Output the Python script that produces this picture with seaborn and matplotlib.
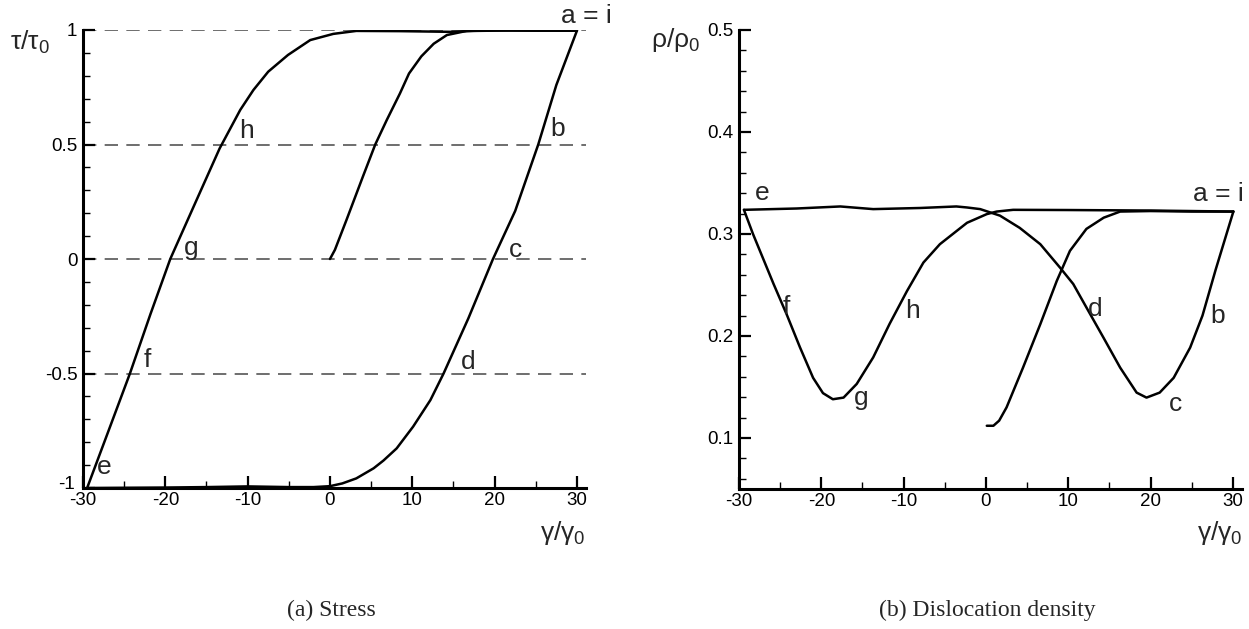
import numpy as np
import pandas as pd
import matplotlib
matplotlib.use("Agg")
import matplotlib.pyplot as plt
import matplotlib.transforms as mtransforms
from matplotlib.ticker import MultipleLocator, FixedLocator
import seaborn as sns

# ---------------- (a) stress - strain loop ----------------
load_x = [0.0, 0.6, 2.0, 4.0, 5.5, 6.9, 8.5, 9.6, 11.1, 12.6, 14.2, 16.6, 20.0, 25.0, 30.0]
load_y = [0.0, 0.04, 0.17, 0.36, 0.50, 0.607, 0.723, 0.81, 0.885, 0.94, 0.978, 0.996, 0.998, 0.997, 0.997]

unload_x = [30.0, 27.5, 25.3, 22.5, 19.8, 16.8, 13.8, 12.2, 10.1, 8.1, 6.5, 5.3, 3.2, 1.5, 0.0,
            -2.0, -5.0, -10.0, -15.0, -20.0, -25.0, -29.5]
unload_y = [0.997, 0.76, 0.50, 0.21, 0.0, -0.26, -0.50, -0.616, -0.732, -0.827, -0.88, -0.914, -0.958,
            -0.98, -0.992, -0.996, -0.996, -0.993, -0.996, -0.998, -0.999, -1.0]

reload_x = [-29.5, -27.0, -24.3, -21.8, -19.4, -16.3, -13.4, -10.9, -9.3, -7.5, -5.1, -2.4, 0.4, 3.2,
            8.5, 14.6, 17.4, 22.0, 30.0]
reload_y = [-1.0, -0.76, -0.50, -0.24, 0.0, 0.25, 0.483, 0.651, 0.738, 0.818, 0.891, 0.956, 0.983, 0.996,
            0.995, 0.992, 0.996, 0.998, 0.997]

stress_ticks = [-1, -0.5, 0, 0.5, 1]
stress_ticklabels = ["-1", "-0.5", "0", "0.5", "1"]
stress_marks = ["a = i", "b", "c", "d", "e", "f", "g", "h"]
stress_mark_x = [31.1, 27.6, 22.5, 16.8, -27.4, -22.2, -16.8, -10.1]
stress_mark_y = [1.06, 0.566, 0.04, -0.45, -0.91, -0.44, 0.05, 0.56]

# ---------------- (b) dislocation density ----------------
rho_load_x = [0.1, 0.9, 1.6, 2.5, 4.5, 6.6, 8.6, 10.2, 12.2, 14.3, 16.3, 20.0, 25.0, 30.05]
rho_load_y = [0.112, 0.112, 0.117, 0.130, 0.169, 0.2116, 0.254, 0.2835, 0.305, 0.316, 0.322,
              0.3225, 0.322, 0.322]

rho_unload_x = [30.05, 27.9, 26.3, 24.8, 22.8, 21.1, 19.5, 18.3, 16.3, 14.3, 12.2, 10.6, 9.0, 6.6,
                4.1, 1.7, -0.7, -2.3, -3.6, -8.0, -13.7, -17.7, -23.0, -29.4]
rho_unload_y = [0.322, 0.265, 0.220, 0.1886, 0.159, 0.1445, 0.1396, 0.1445, 0.169, 0.198, 0.228,
                0.251, 0.267, 0.290, 0.306, 0.318, 0.3244, 0.326, 0.327, 0.3255, 0.3244, 0.327,
                0.325, 0.3237]

rho_reload_x = [-29.4, -28.3, -25.8, -24.2, -22.6, -21.0, -19.8, -18.6, -17.3, -15.7, -13.7, -11.7,
                -9.6, -7.6, -5.6, -2.3, 0.1, 1.3, 3.3, 10.0, 20.0, 30.05]
rho_reload_y = [0.3237, 0.300, 0.251, 0.221, 0.189, 0.159, 0.144, 0.138, 0.1396, 0.153, 0.179, 0.212,
                0.244, 0.272, 0.290, 0.311, 0.3195, 0.322, 0.3237, 0.3235, 0.323, 0.322]

rho_ticks = [0.1, 0.2, 0.3, 0.4, 0.5]
rho_ticklabels = ["0.1", "0.2", "0.3", "0.4", "0.5"]
rho_marks = ["a = i", "b", "c", "d", "e", "f", "g", "h"]
rho_mark_x = [28.2, 28.1, 23.0, 13.3, -27.2, -24.2, -15.1, -8.9]
rho_mark_y = [0.339, 0.22, 0.133, 0.226, 0.34, 0.228, 0.139, 0.225]

strain_ticks = [-30, -20, -10, 0, 10, 20, 30]

sns.set_theme(style="ticks")
plt.rcParams["font.family"] = ["Liberation Sans", "DejaVu Sans"]
plt.rcParams["axes.unicode_minus"] = False
plt.rcParams["mathtext.fontset"] = "custom"
plt.rcParams["mathtext.rm"] = "Liberation Sans"
plt.rcParams["mathtext.it"] = "Liberation Sans"
plt.rcParams["mathtext.bf"] = "Liberation Sans:bold"

fig = plt.figure(figsize=(12.49, 6.29), dpi=100)
ax_a = fig.add_axes([83 / 1249, 1 - 488 / 629, 503 / 1249, 458 / 629])
ax_b = fig.add_axes([739 / 1249, 1 - 489 / 629, 503 / 1249, 459 / 629])

line_kw = dict(color="black", linewidth=1.8, sort=False, estimator=None, legend=False,
               solid_joinstyle="round", solid_capstyle="round")


def branch(xs, ys):
    return pd.DataFrame({"x": xs, "y": ys})


for xs, ys in [(load_x, load_y), (unload_x, unload_y), (reload_x, reload_y)]:
    sns.lineplot(data=branch(xs, ys), x="x", y="y", ax=ax_a, **line_kw)

for xs, ys in [(rho_load_x, rho_load_y), (rho_unload_x, rho_unload_y), (rho_reload_x, rho_reload_y)]:
    sns.lineplot(data=branch(xs, ys), x="x", y="y", ax=ax_b, **line_kw)


def style_axes(ax, ylim, yticks, yticklabels, yminor):
    ax.set_xlim(-30, 31.1)
    ax.set_ylim(*ylim)
    ax.set_xlabel("")
    ax.set_ylabel("")
    ax.xaxis.set_major_locator(FixedLocator(strain_ticks))
    ax.xaxis.set_minor_locator(MultipleLocator(5))
    ax.set_xticklabels([str(t) for t in strain_ticks])
    ax.yaxis.set_major_locator(FixedLocator(yticks))
    ax.yaxis.set_minor_locator(MultipleLocator(yminor))
    ax.set_yticklabels(yticklabels)
    for side in ["top", "right"]:
        ax.spines[side].set_visible(False)
    for side in ["left", "bottom"]:
        ax.spines[side].set_linewidth(2.2)
        ax.spines[side].set_color("black")
    ax.tick_params(which="major", direction="in", length=8.5, width=1.6, colors="black",
                   labelsize=13.5, pad=4)
    ax.tick_params(which="minor", direction="in", length=5, width=1.0, colors="black")
    ax.tick_params(axis="x", which="major", pad=3)
    ax.set_facecolor("white")


style_axes(ax_a, (-1, 1), stress_ticks, stress_ticklabels, 0.1)
style_axes(ax_b, (0.05, 0.5), rho_ticks, rho_ticklabels, 0.02)

# lift the bottom stress label a little so it clears the first strain label
fig.canvas.draw()
bottom_label = ax_a.get_yticklabels()[0]
bottom_label.set_transform(bottom_label.get_transform()
                           + mtransforms.ScaledTranslation(-2 / 72, 4 / 72, fig.dpi_scale_trans))

# dashed reference levels on the stress panel
ax_a.set_axisbelow(True)
ax_a.grid(axis="y", which="major", linestyle=(0, (8, 5)), color="#555555", linewidth=1.2)
ax_b.grid(False)

for txt, x, y in zip(stress_marks, stress_mark_x, stress_mark_y):
    ax_a.text(x, y, txt, fontsize=19, ha="center", va="center", clip_on=False)
for txt, x, y in zip(rho_marks, rho_mark_x, rho_mark_y):
    ax_b.text(x, y, txt, fontsize=19, ha="center", va="center", clip_on=False)

fig.text(30 / 1249, 1 - 42 / 629, r"$\tau/\tau_0$", fontsize=19, ha="center", va="center")
fig.text(675 / 1249, 1 - 40 / 629, r"$\rho/\rho_0$", fontsize=19, ha="center", va="center")
fig.text(563 / 1249, 1 - 533 / 629, r"$\gamma/\gamma_0$", fontsize=19, ha="center", va="center")
fig.text(1220 / 1249, 1 - 533 / 629, r"$\gamma/\gamma_0$", fontsize=19, ha="center", va="center")

fig.text(331 / 1249, 1 - 610 / 629, "(a) Stress", fontsize=17, ha="center", va="center",
         family=["Liberation Serif", "DejaVu Serif"])
fig.text(987 / 1249, 1 - 610 / 629, "(b) Dislocation density", fontsize=17, ha="center", va="center",
         family=["Liberation Serif", "DejaVu Serif"])

fig.savefig("out.png", dpi=100, facecolor="white")
